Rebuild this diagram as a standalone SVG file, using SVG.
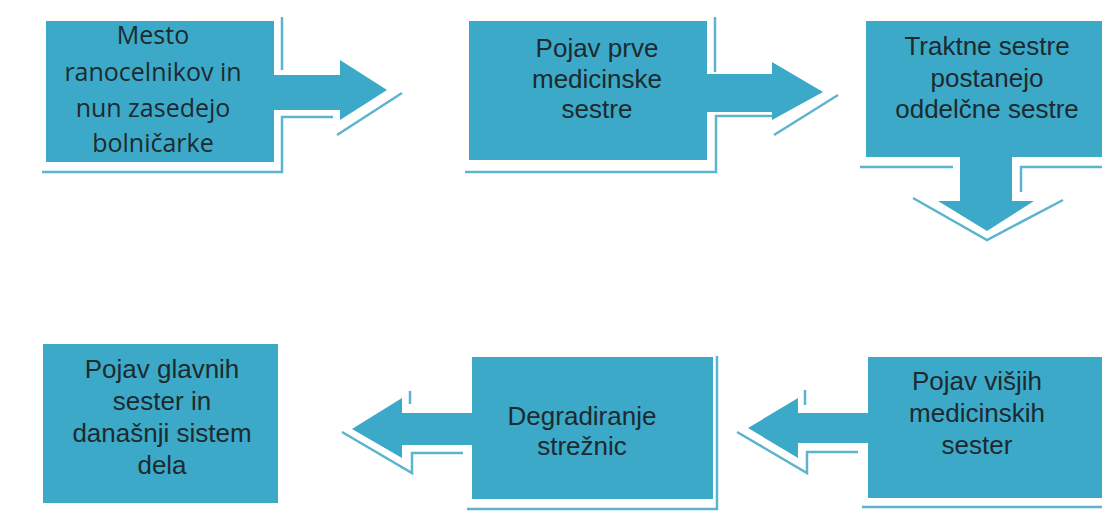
<svg xmlns="http://www.w3.org/2000/svg" width="1102" height="517" viewBox="0 0 1102 517">
<style>
.box{fill:#3ca9c8;}
.sh{fill:none;stroke:#5cb4cf;stroke-width:2.5;}
.t{font-family:"Liberation Sans",Arial,sans-serif;font-size:26px;fill:#1d2a2e;text-anchor:middle;}
.t1{font-family:"Open Sans","Liberation Sans",sans-serif;font-size:25px;fill:#1d2a2e;text-anchor:middle;}
</style>
<rect width="1102" height="517" fill="#ffffff"/>
<g id="connectors">
<path class="sh" d="M282,17 V70 M42,172 H282 V117 H333 M337,135 L402,93"/>
<path class="sh" d="M715,17 V72 M465,172 H716 V116 H773 M774,135 L838,95"/>
<path class="sh" d="M860,167 H953 M1102,167 H1021 V192 M913,198 L987,240 L1063,200"/>
<path class="sh" d="M467,509 H717 V356 M463,453 H412 V473 L342,432 M410,391 V404"/>
<path class="sh" d="M862,507 H1102 M858,452 H807 V473 L737,432 M805,390 V405"/>
</g>
<g id="node1">
<path class="box" d="M46,21 H274 V75 H340 V60 L387,90 L340,120 V110 H274 V162 H46 Z"/>
<text class="t1" x="153" y="44">Mesto</text>
<text class="t1" x="153" y="81">ranocelnikov in</text>
<text class="t1" x="153" y="117">nun zasedejo</text>
<text class="t1" x="153" y="152">bolničarke</text>
</g>
<g id="node2">
<path class="box" d="M469,21 H707 V74 H772 V62 L823,92 L772,120 V112 H707 V160 H469 Z"/>
<text class="t" x="597" y="57">Pojav prve</text>
<text class="t" x="597" y="88">medicinske</text>
<text class="t" x="597" y="118">sestre</text>
</g>
<g id="node3">
<path class="box" d="M866,21 H1110 V157 H1012 V201 H1034 L987,231 L938,201 H960 V157 H866 Z"/>
<text class="t" x="987" y="55">Traktne sestre</text>
<text class="t" x="987" y="87">postanejo</text>
<text class="t" x="987" y="118">oddelčne sestre</text>
</g>
<g id="node4">
<rect class="box" x="43" y="344" width="235" height="159"/>
<text class="t" x="162" y="378">Pojav glavnih</text>
<text class="t" x="162" y="410">sester in</text>
<text class="t" x="162" y="442">današnji sistem</text>
<text class="t" x="162" y="474">dela</text>
</g>
<g id="node5">
<path class="box" d="M472,357 H713 V499 H472 V445 H402 V458 L352,429 L402,398 V413 H472 Z"/>
<text class="t" x="582" y="425">Degradiranje</text>
<text class="t" x="582" y="455">strežnic</text>
</g>
<g id="node6">
<path class="box" d="M868,357 H1110 V498 H868 V443 H798 V458 L748,428 L798,398 V413 H868 Z"/>
<text class="t" x="977" y="390">Pojav višjih</text>
<text class="t" x="977" y="422">medicinskih</text>
<text class="t" x="977" y="454">sester</text>
</g>
</svg>
